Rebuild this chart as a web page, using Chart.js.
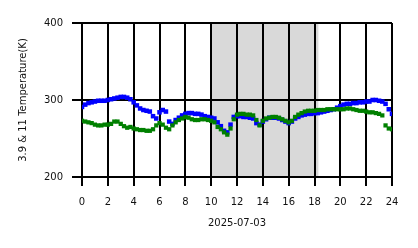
<!DOCTYPE html>
<html>
<head>
<meta charset="utf-8">
<script src="https://cdn.jsdelivr.net/npm/chart.js@4/dist/chart.umd.min.js"></script>
<style>
  html, body { margin: 0; padding: 0; background: #fff; }
  #wrap { width: 418px; height: 248px; }
</style>
</head>
<body>
<div id="wrap"><canvas id="tempChart" width="418" height="248"></canvas></div>
<script>
// quarter-hour samples, 00:00 .. 24:00
const hourTicks = [0, 2, 4, 6, 8, 10, 12, 14, 16, 18, 20, 22, 24];
const tempTicks = [200, 300, 400];
const dayLabel = '2025-07-03';
const shadeFrom = 10;
const shadeTo = 18.3;

// 3.9 um band (blue)
const temp39 = [
  291, 294, 296, 297,
  298, 299, 299, 299,
  300, 301, 302, 303,
  304, 304, 303, 301,
  297, 293, 289, 287,
  286, 285, 279, 276,
  284, 287, 285, 272,
  269, 274, 277, 280,
  282, 283, 283, 282,
  282, 281, 279, 278,
  277, 276, 271, 266,
  260, 258, 268, 278,
  279, 279, 278, 278,
  277, 276, 270, 268,
  272, 275, 277, 277,
  277, 276, 274, 272,
  270, 272, 276, 278,
  280, 281, 282, 282,
  283, 283, 284, 285,
  286, 287, 288, 290,
  292, 294, 295, 295,
  296, 296, 297, 297,
  298, 298, 300, 300,
  299, 298, 295, 288,
  282
];

// 11 um band (green)
const temp11 = [
  273, 272, 271, 270,
  268, 267, 267, 268,
  268, 269, 272, 272,
  269, 266, 264, 265,
  263, 262, 261, 261,
  260, 260, 262, 267,
  270, 268, 264, 262,
  267, 271, 274, 276,
  278, 277, 275, 274,
  274, 275, 275, 274,
  273, 271, 265, 262,
  258, 255, 263, 275,
  281, 282, 282, 281,
  281, 280, 274, 267,
  273, 276, 277, 278,
  278, 277, 275, 273,
  271, 273, 278, 281,
  283, 285, 286, 286,
  286, 287, 287, 287,
  288, 288, 288, 288,
  288, 288, 289, 289,
  288, 287, 286, 286,
  285, 284, 284, 283,
  282, 280, 267, 263,
  262
];

const toPoints = arr => arr.map((v, i) => ({ x: i / 4, y: v }));

// grey band behind the grid
const shadePlugin = {
  id: 'shade',
  beforeDraw(chart) {
    const { ctx, chartArea, scales } = chart;
    const x0 = scales.x.getPixelForValue(shadeFrom);
    const x1 = scales.x.getPixelForValue(shadeTo);
    ctx.save();
    ctx.fillStyle = '#d9d9d9';
    ctx.fillRect(x0, chartArea.top, x1 - x0, chartArea.bottom - chartArea.top);
    ctx.restore();
  }
};

const font = { family: 'DejaVu Sans', size: 10 };

new Chart(document.getElementById('tempChart'), {
  type: 'scatter',
  data: {
    datasets: [
      {
        label: '11',
        data: toPoints(temp11),
        backgroundColor: '#008000',
        pointStyle: 'rect',
        pointRadius: 3,
        pointBorderWidth: 0
      },
      {
        label: '3.9',
        data: toPoints(temp39),
        backgroundColor: '#0000ff',
        pointStyle: 'rect',
        pointRadius: 3.2,
        pointBorderWidth: 0
      }
    ]
  },
  options: {
    responsive: false,
    animation: false,
    events: [],
    layout: { padding: { left: 0, right: 26, top: 23, bottom: 0 } },
    plugins: { legend: { display: false }, tooltip: { enabled: false } },
    scales: {
      x: {
        type: 'linear',
        min: 0,
        max: 24,
        afterFit: s => { s.height = 71; },
        afterBuildTicks: s => { s.ticks = hourTicks.map(v => ({ value: v })); },
        grid: { color: '#000', lineWidth: 2, tickLength: 9, tickWidth: 2, tickColor: '#000' },
        border: { display: true, color: '#000', width: 2 },
        ticks: { color: '#111', font, padding: 10, maxRotation: 0 },
        title: { display: true, text: dayLabel, color: '#111', font, padding: { top: 0, bottom: 19 } }
      },
      y: {
        min: 200,
        max: 400,
        afterFit: s => { s.width = 82; },
        afterBuildTicks: s => { s.ticks = tempTicks.map(v => ({ value: v })); },
        grid: { color: '#000', lineWidth: 2, tickLength: 10, tickWidth: 2, tickColor: '#000' },
        border: { display: true, color: '#000', width: 2 },
        ticks: { color: '#111', font, padding: 9 },
        title: { display: true, text: '3.9 & 11 Temperature(K)', color: '#111', font, padding: { top: 17, bottom: 0 } }
      }
    }
  },
  plugins: [shadePlugin]
});
</script>
</body>
</html>
